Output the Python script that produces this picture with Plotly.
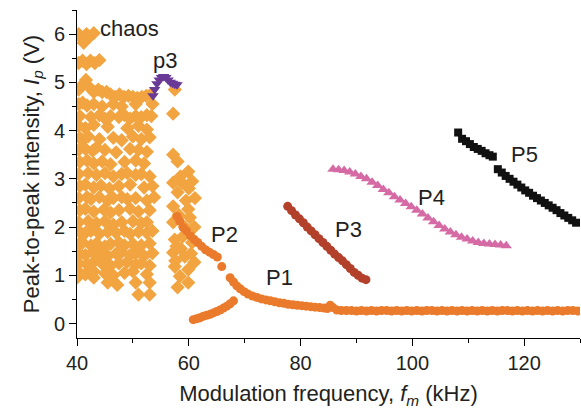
import plotly.graph_objects as go

# ---------------- data ----------------
chaos_x = [
    40.3, 41.0, 41.7, 42.3, 43.0, 41.2,
    40.3, 41.0, 41.7, 42.4, 43.2, 44.0,
    40.3, 41.0, 41.6, 42.2, 43.0, 43.8, 44.5, 45.3, 46.0, 46.8, 47.6, 48.4, 49.2, 50.0, 50.8, 51.6, 52.4, 53.2,
    40.3, 41.0, 41.8, 43.0, 44.5, 46.5, 48.0, 50.5, 53.5,
    40.5, 42.5, 44.0, 45.0, 46.0, 47.5, 48.5, 49.5, 50.5, 51.5, 52.5, 53.3,
    40.3, 41.5, 43.0, 45.5, 49.0, 51.0, 52.5,
    40.5, 41.0, 42.0, 44.0, 46.5, 48.0, 50.0, 51.5, 53.0,
    40.3, 41.5, 42.8, 43.5, 45.0, 47.0, 49.5, 51.0, 52.5,
    40.5, 41.8, 43.0, 44.5, 46.0, 48.5, 50.5, 52.0,
    40.3, 42.0, 43.5, 45.0, 46.5, 48.0, 49.0, 50.5, 51.5, 53.0,
    40.5, 41.5, 43.0, 44.3, 45.8, 47.5, 49.5, 52.0, 53.5,
    40.3, 41.8, 42.5, 44.0, 45.5, 46.5, 48.0, 49.0, 50.5, 52.5, 53.8,
    40.5, 41.5, 43.0, 44.8, 46.0, 47.5, 49.5, 51.0, 53.0,
    40.3, 42.0, 43.5, 45.0, 46.5, 48.0, 50.0, 51.5, 52.5,
    40.5, 41.5, 42.5, 44.0, 45.5, 47.0, 48.5, 49.5, 51.0, 52.5, 53.5,
    40.3, 41.0, 42.5, 43.5, 45.0, 46.0, 47.5, 48.5, 50.0, 51.5, 53.0,
    40.5, 41.5, 42.8, 44.0, 45.5, 47.0, 48.0, 49.5, 50.5, 52.0, 53.5,
    40.3, 41.8, 43.0, 44.5, 46.0, 47.5, 49.0, 50.5, 51.5, 53.0,
    40.5, 41.5, 43.0, 45.0, 46.5, 48.5, 50.0, 52.5,
    40.0, 43.0, 45.5, 47.2, 50.5, 53.0, 51.0, 53.0,
    57.5, 57.2,
    57.2, 58.0, 59.9, 57.2, 58.8, 60.6, 61.1, 58.0, 57.2, 59.9, 61.0, 57.2, 59.3,
    57.5, 60.6, 57.2, 59.3, 61.0, 57.5, 59.9, 58.4, 59.9, 58.0,
    58.5, 60.0, 58.2, 59.5, 60.2, 57.8, 58.6, 60.4, 57.6, 58.9,
]
chaos_y = [
    6.00, 5.90, 6.00, 5.95, 6.02, 5.82,
    5.40, 5.45, 5.38, 5.45, 5.40, 5.46,
    4.85, 4.95, 5.05, 4.90, 4.80, 4.85, 4.80, 4.80, 4.75, 4.70, 4.75, 4.70, 4.72, 4.70, 4.68, 4.70, 4.72, 4.75,
    4.55, 4.58, 4.52, 4.55, 4.50, 4.55, 4.50, 4.55, 4.55,
    4.30, 4.28, 4.32, 4.25, 4.30, 4.28, 4.32, 4.25, 4.30, 4.28, 4.32, 4.30,
    4.10, 4.05, 4.12, 4.08, 4.05, 4.10, 4.02,
    3.85, 3.80, 3.88, 3.82, 3.85, 3.80, 3.88, 3.82, 3.86,
    3.60, 3.62, 3.58, 3.65, 3.60, 3.55, 3.62, 3.60, 3.56,
    3.35, 3.38, 3.32, 3.36, 3.30, 3.35, 3.38, 3.32,
    3.10, 3.12, 3.08, 3.12, 3.05, 3.10, 3.12, 3.08, 3.10, 3.05,
    2.85, 2.88, 2.82, 2.86, 2.80, 2.85, 2.88, 2.82, 2.85,
    2.60, 2.62, 2.58, 2.62, 2.55, 2.60, 2.62, 2.58, 2.60, 2.55, 2.62,
    2.35, 2.38, 2.32, 2.36, 2.30, 2.35, 2.38, 2.32, 2.35,
    2.10, 2.12, 2.08, 2.12, 2.05, 2.10, 2.12, 2.08, 2.10,
    1.90, 1.88, 1.92, 1.86, 1.90, 1.88, 1.92, 1.86, 1.90, 1.88, 1.92,
    1.65, 1.68, 1.62, 1.66, 1.60, 1.65, 1.68, 1.62, 1.65, 1.62, 1.66,
    1.45, 1.42, 1.48, 1.44, 1.40, 1.45, 1.48, 1.42, 1.45, 1.40, 1.46,
    1.25, 1.22, 1.28, 1.24, 1.20, 1.25, 1.28, 1.22, 1.25, 1.20,
    1.05, 1.02, 1.08, 1.04, 1.00, 1.05, 1.08, 1.02,
    0.95, 0.95, 0.85, 0.80, 0.85, 0.85, 0.60, 0.60,
    4.85, 4.35,
    3.50, 3.36, 3.15, 2.92, 2.92, 2.95, 2.60, 2.72, 2.43, 2.37, 2.00, 2.10, 2.00,
    1.74, 1.68, 1.47, 1.39, 1.27, 1.18, 1.12, 0.98, 0.85, 0.75,
    3.05, 2.80, 2.25, 2.55, 2.20, 1.60, 1.55, 1.45, 1.30, 1.80,
]

p3_x = [53.6, 53.9, 54.3, 54.7, 55.1, 55.5, 55.9, 56.3, 56.7, 57.1, 57.5, 57.9]
p3_y = [4.72, 4.85, 4.97, 5.05, 5.10, 5.12, 5.10, 5.05, 5.00, 4.98, 4.96, 4.95]

P2_x = [57.9, 58.4, 59.0, 59.6, 60.3, 61.0, 61.6, 62.3, 63.0, 63.7, 64.4, 65.1, 65.9]
P2_y = [2.22, 2.12, 1.99, 1.92, 1.82, 1.74, 1.68, 1.60, 1.53, 1.48, 1.43, 1.38, 1.18]

P1_low_x = [60.8, 61.4, 62.0, 62.6, 63.2, 63.8, 64.4, 65.0, 65.6, 66.2, 66.8, 67.4, 68.0]
P1_low_y = [0.08, 0.10, 0.12, 0.15, 0.17, 0.19, 0.22, 0.25, 0.28, 0.32, 0.36, 0.41, 0.47]

P1_x = [67.4, 68.0, 68.6, 69.2, 69.9, 70.6, 71.4, 72.2, 73.0, 73.8, 74.6, 75.4, 76.2, 77.0,
        77.8, 78.6, 79.4, 80.2, 81.0, 81.8, 82.6, 83.4, 84.2, 84.8, 85.3, 85.8, 86.5,
        87.3, 88.2, 89.1, 90.0, 90.9, 91.8, 92.7, 93.6, 94.5, 95.4, 96.3, 97.2, 98.1, 99.0,
        99.9, 100.8, 101.7, 102.6, 103.5, 104.4, 105.3, 106.2, 107.1, 108.0, 108.9, 109.8,
        110.7, 111.6, 112.5, 113.4, 114.3, 115.2, 116.1, 117.0, 117.9, 118.8, 119.7, 120.6,
        121.5, 122.4, 123.3, 124.2, 125.1, 126.0, 126.9, 127.8, 128.7, 129.6]
P1_y = [0.95, 0.86, 0.78, 0.72, 0.66, 0.61, 0.57, 0.54, 0.51, 0.49, 0.47, 0.45, 0.43, 0.42,
        0.40, 0.39, 0.38, 0.37, 0.36, 0.35, 0.34, 0.33, 0.32, 0.31, 0.38, 0.33, 0.28,
        0.27, 0.27, 0.27, 0.26, 0.27, 0.26, 0.27, 0.26, 0.27, 0.27, 0.26, 0.27, 0.26, 0.27,
        0.26, 0.27, 0.26, 0.27, 0.27, 0.26, 0.27, 0.26, 0.27, 0.26, 0.27, 0.26,
        0.27, 0.26, 0.27, 0.26, 0.27, 0.26, 0.27, 0.27, 0.26, 0.27, 0.26, 0.27,
        0.26, 0.27, 0.26, 0.27, 0.26, 0.27, 0.26, 0.27, 0.27, 0.26]

P3_x = [77.7, 78.4, 79.1, 79.8, 80.5, 81.2, 81.9, 82.6, 83.3, 84.0, 84.7, 85.4, 86.1, 86.8,
        87.5, 88.2, 88.9, 89.6, 90.3, 91.0, 91.7]
P3_y = [2.43, 2.34, 2.25, 2.17, 2.09, 2.00, 1.92, 1.84, 1.76, 1.68, 1.60, 1.52, 1.44, 1.37,
        1.30, 1.22, 1.14, 1.06, 1.00, 0.94, 0.91]

P4_x = [85.8, 86.8, 87.8, 88.8, 89.8, 90.8, 91.8, 92.8, 93.8, 94.8, 95.8, 96.8, 97.8, 98.8,
        99.8, 100.8, 101.8, 102.8, 103.8, 104.8, 105.8, 106.8, 107.8, 108.8, 109.8, 110.8,
        111.8, 112.8, 113.8, 114.8, 115.8, 116.8]
P4_y = [3.20, 3.19, 3.17, 3.14, 3.10, 3.05, 3.00, 2.93, 2.86, 2.78, 2.71, 2.63, 2.56, 2.49,
        2.42, 2.35, 2.27, 2.19, 2.11, 2.03, 1.96, 1.90, 1.84, 1.79, 1.75, 1.71, 1.68, 1.66,
        1.65, 1.64, 1.63, 1.61]

P5_x = [108.2, 108.9, 109.6, 110.3, 111.0, 111.7, 112.4, 113.1, 113.8, 114.4,
        115.3, 116.0, 116.7, 117.4, 118.1, 118.8, 119.5, 120.2, 120.9, 121.6, 122.3,
        123.0, 123.7, 124.4, 125.1, 125.8, 126.5, 127.2, 127.9, 128.6, 129.3]
P5_y = [3.96, 3.83, 3.78, 3.72, 3.66, 3.62, 3.58, 3.53, 3.49, 3.46,
        3.20, 3.13, 3.06, 3.00, 2.94, 2.88, 2.82, 2.76, 2.71, 2.65, 2.60,
        2.55, 2.50, 2.45, 2.40, 2.35, 2.29, 2.24, 2.19, 2.14, 2.09]

labels = ["chaos", "p3", "P2", "P1", "P3", "P4", "P5"]
label_x = [43.8, 55.7, 66.4, 76.3, 88.5, 103.5, 120.1]
label_y = [6.12, 5.45, 1.85, 0.95, 1.95, 2.61, 3.5]

# ---------------- figure ----------------
C_CHAOS = "#F2A441"
C_P12 = "#EA7B2C"
C_P3 = "#B2402A"
C_P4 = "#D56AA4"
C_P5 = "#111111"
C_p3 = "#6A3A96"
TXT = "#231F20"
FONT = "Liberation Sans, Arial, sans-serif"

fig = go.Figure()
fig.add_trace(go.Scatter(x=chaos_x, y=chaos_y, mode="markers",
                         marker=dict(symbol="diamond", size=11, color=C_CHAOS, line=dict(width=0))))
fig.add_trace(go.Scatter(x=P1_low_x, y=P1_low_y, mode="markers",
                         marker=dict(symbol="circle", size=9, color=C_P12, line=dict(width=0))))
fig.add_trace(go.Scatter(x=P1_x, y=P1_y, mode="markers",
                         marker=dict(symbol="circle", size=9, color=C_P12, line=dict(width=0))))
fig.add_trace(go.Scatter(x=P2_x, y=P2_y, mode="markers",
                         marker=dict(symbol="circle", size=9, color=C_P12, line=dict(width=0))))
fig.add_trace(go.Scatter(x=P3_x, y=P3_y, mode="markers",
                         marker=dict(symbol="circle", size=9, color=C_P3, line=dict(width=0))))
fig.add_trace(go.Scatter(x=P4_x, y=P4_y, mode="markers",
                         marker=dict(symbol="triangle-up", size=10, color=C_P4, line=dict(width=0))))
fig.add_trace(go.Scatter(x=P5_x, y=P5_y, mode="markers",
                         marker=dict(symbol="square", size=8, color=C_P5, line=dict(width=0))))
fig.add_trace(go.Scatter(x=p3_x, y=p3_y, mode="markers",
                         marker=dict(symbol="triangle-down", size=10, color=C_p3, line=dict(width=0))))

for t, x, y in zip(labels, label_x, label_y):
    fig.add_annotation(x=x, y=y, text=t, showarrow=False,
                       xanchor="left" if t == "chaos" else "center", yanchor="middle",
                       font=dict(size=22, color=TXT, family=FONT))

axis_common = dict(showline=True, linecolor="#000", linewidth=1, ticks="outside",
                   ticklen=7, tickwidth=1, tickcolor="#000", showgrid=False, zeroline=False,
                   tickfont=dict(size=20, color=TXT, family=FONT), mirror=False)

fig.update_xaxes(range=[40, 130], dtick=20, tick0=40,
                 minor=dict(dtick=10, ticks="outside", ticklen=4, tickcolor="#000"),
                 title=dict(text="Modulation frequency, <i>f</i><sub><i>m</i></sub> (kHz)",
                            font=dict(size=22, color=TXT, family=FONT), standoff=12),
                 **axis_common)
fig.update_yaxes(range=[-0.3, 6.5], dtick=1, tick0=0,
                 minor=dict(dtick=0.5, ticks="outside", ticklen=4, tickcolor="#000"),
                 title=dict(text="Peak-to-peak intensity, <i>I</i><sub><i>p</i></sub> (V)",
                            font=dict(size=22, color=TXT, family=FONT), standoff=8),
                 **axis_common)

fig.update_layout(width=581, height=410, showlegend=False,
                  margin=dict(l=77, r=1, t=10, b=72),
                  plot_bgcolor="white", paper_bgcolor="white")

fig.write_html("out.html")
